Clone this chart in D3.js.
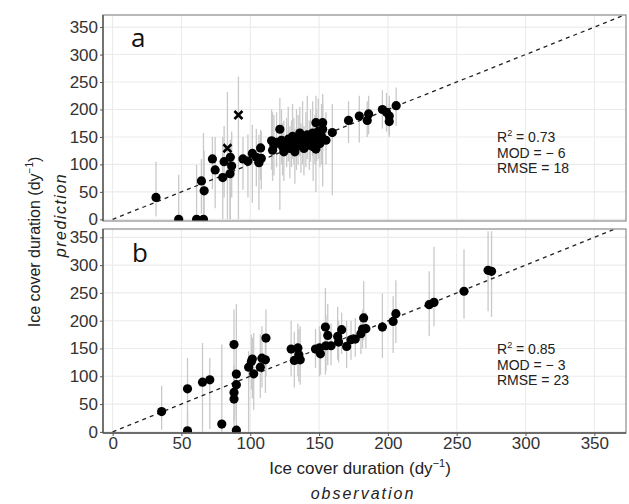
<!DOCTYPE html>
<html><head><meta charset="utf-8">
<script src="https://cdn.jsdelivr.net/npm/d3@7"></script>
<style>
body{margin:0;background:#fff;}
svg text{font-family:"Liberation Sans",Arial,sans-serif;}
</style></head>
<body><svg id="c" width="629" height="504"></svg>
<script>
// ---------- data ----------
const ticks = [0,50,100,150,200,250,300,350];
// Panel a (filled circles)
const obsA  = [31.5,48,61,66,64.5,66.5,72.5,74.5,80,81,85.5,86.5,85.3,94.7,98.3,101.5,104.4,106.3,107.5,108,
  115.5,116.2,117.2,119.1,121.5,122.7,123.5,124.4,126.4,127.6,128.8,130,130.7,131.7,132.4,133.6,134.8,136,136.8,138,
  139,140.4,141.4,142.9,143.8,145.3,145.7,147,147.7,148.2,149.4,150.6,151.8,152.6,147.7,152.6,155,159.6,171.4,179.2,
  185,186,196,199,201,201,206];
const predA = [40,0,0,0,70,52,110,90,76,105,113,97,83,110,106,120,113,103,130,111,
  143,126,135,140,164,144,132,123,140,146,129,137,151,141,123,132,146,157,135,149,
  129,141,154,135,146,157,132,141,128,149,160,138,151,164,176,176,144,158,180,188,
  180,192,200,195,178,188,207];
const loA   = [5,0,0,0,10,0,55,20,0,40,0,40,0,54,40,30,60,17,72,55,
  90,70,80,95,17,100,80,70,95,105,75,95,110,100,65,90,100,115,85,100,
  80,95,110,90,105,115,70,100,50,105,110,95,100,60,125,130,100,44,139,140,
  150,155,165,160,150,155,170];
const hiA   = [105,81,99,157,110,125,150,150,150,170,145,160,120,150,155,172,165,154,163,160,
  200,195,190,195,221,200,175,180,185,205,170,180,210,185,165,200,190,205,175,215,
  170,195,225,180,200,215,180,190,175,200,220,185,210,215,225,228,195,210,215,225,
  215,225,235,230,210,225,240];
// Panel a (crosses)
const obsAx  = [83.4,91.4];
const predAx = [129.5,190];
const loAx   = [0,0];
const hiAx   = [232,260];
// Panel b
const obsB  = [35.6,54.4,54.4,65.3,70.6,79.3,88.2,88.2,88.2,89.9,89.9,89.9,98.8,100.8,101.5,102.5,107.3,108.5,111,111.4,
  129.7,132,134.6,135.3,136.3,147.4,150.3,151,154.6,156.3,155,158.7,163.5,164.2,166.4,170,173.2,176.3,180.4,181.6,
  182.4,184,196,203.8,205.8,230,233.5,255.3,272.8,275.3];
const predB = [36.6,77.5,2,89.5,93.7,14,157,71,59,104,85,3,116.5,126.7,131,104.5,116.5,132.6,129.7,168.8,
  149,128.5,151,138.7,129.7,149,151,140.5,188.6,173.5,155,155,171.7,161.6,183.8,153.7,165.8,167,176.6,185,
  205,185.6,188.6,198.7,212.6,228.8,233,253,290.6,288.8];
const loB   = [4,4,0,0,5,0,60,20,10,30,20,0,0,76,60,40,61,80,70,100,
  100,80,100,90,85,115,100,103,103,120,110,120,130,125,140,115,130,135,140,150,
  165,150,133,142,160,172,190,204,217,207];
const hiB   = [83,133,40,160,133,157,220,120,110,230,150,60,145,175,170,178,175,190,165,220,
  200,180,195,185,190,185,190,180,259,230,210,195,225,200,215,200,200,205,210,220,
  271,215,249,244,273,289,333,328,361,361];
const statsA = ["0.73","− 6","18"];
const statsB = ["0.85","− 3","23"];

// ---------- layout ----------
const svg = d3.select("#c");
const L = 103, R = 626;
const x = d3.scaleLinear().domain([-7,373]).range([L,R]);
const panels = [
  {id:"a", top:15, bottom:221, ydom:[-3,372], obs:obsA, pred:predA, lo:loA, hi:hiA,
   xo:obsAx, xp:predAx, xl:loAx, xh:hiAx, stats:statsA, sy:137, lab:[131,47]},
  {id:"b", top:229, bottom:433, ydom:[-2,365], obs:obsB, pred:predB, lo:loB, hi:hiB,
   xo:[], xp:[], xl:[], xh:[], stats:statsB, sy:349, lab:[132,262]}
];

panels.forEach((p,i)=>{
  const y = d3.scaleLinear().domain(p.ydom).range([p.bottom,p.top]);
  const g = svg.append("g");
  g.append("rect").attr("x",L).attr("y",p.top).attr("width",R-L).attr("height",p.bottom-p.top).attr("fill","#fff");
  // grid
  g.selectAll(".gx").data(ticks).join("line").attr("x1",d=>x(d)).attr("x2",d=>x(d))
    .attr("y1",p.top).attr("y2",p.bottom).attr("stroke","#ebebeb").attr("stroke-width",1.1);
  g.selectAll(".gy").data(ticks).join("line").attr("y1",d=>y(d)).attr("y2",d=>y(d))
    .attr("x1",L).attr("x2",R).attr("stroke","#ebebeb").attr("stroke-width",1.1);
  const cid = "clip"+p.id;
  svg.append("clipPath").attr("id",cid).append("rect").attr("x",L).attr("y",p.top).attr("width",R-L).attr("height",p.bottom-p.top);
  const pg = g.append("g").attr("clip-path",`url(#${cid})`);
  // error bars
  const bars = p.obs.map((o,k)=>({o, lo:p.lo[k], hi:p.hi[k]})).concat(p.xo.map((o,k)=>({o, lo:p.xl[k], hi:p.xh[k]})));
  pg.selectAll(".eb").data(bars).join("line")
    .attr("x1",d=>x(d.o)).attr("x2",d=>x(d.o)).attr("y1",d=>y(d.lo)).attr("y2",d=>y(d.hi))
    .attr("stroke","#c9c9c9").attr("stroke-width",1.3);
  // 1:1 line
  pg.append("line").attr("x1",x(0)).attr("y1",y(0)).attr("x2",x(380)).attr("y2",y(380))
    .attr("stroke","#222").attr("stroke-width",1.3).attr("stroke-dasharray","4,4");
  // points
  pg.selectAll(".pt").data(p.obs.map((o,k)=>[o,p.pred[k]])).join("circle")
    .attr("cx",d=>x(d[0])).attr("cy",d=>y(d[1])).attr("r",4.6).attr("fill","#000");
  // crosses
  const s = 4;
  p.xo.forEach((o,k)=>{
    const cx = x(o), cy = y(p.xp[k]);
    pg.append("path").attr("d",`M${cx-s},${cy-s}L${cx+s},${cy+s}M${cx-s},${cy+s}L${cx+s},${cy-s}`)
      .attr("stroke","#000").attr("stroke-width",2.6);
  });
  // border
  g.append("rect").attr("x",L).attr("y",p.top).attr("width",R-L).attr("height",p.bottom-p.top)
    .attr("fill","none").attr("stroke","#8a8a8a").attr("stroke-width",1.2);
  g.append("line").attr("x1",L).attr("x2",L).attr("y1",p.top).attr("y2",p.bottom).attr("stroke","#555").attr("stroke-width",1.4);
  // y axis
  const ya = g.append("g").attr("transform",`translate(${L},0)`).call(d3.axisLeft(y).tickValues(ticks).tickSize(3).tickPadding(2));
  ya.select(".domain").remove();
  ya.selectAll("line").attr("stroke","#555");
  ya.selectAll("text").attr("fill","#333").style("font-size","17px").style("font-family","Liberation Sans, Arial, sans-serif");
  // panel label
  g.append("text").attr("x",p.lab[0]).attr("y",p.lab[1]).text(p.id)
    .style("font-family","Open Sans, sans-serif").style("font-size","26px").attr("fill","#111");
  // stats
  const st = g.append("g").style("font-size","14px").attr("fill","#222");
  const t1 = st.append("text").attr("x",497).attr("y",p.sy+5);
  t1.append("tspan").text("R");
  t1.append("tspan").text("2").attr("dy",-6).style("font-size","9px");
  t1.append("tspan").text(" = "+p.stats[0]).attr("dy",6);
  st.append("text").attr("x",497).attr("y",p.sy+20.5).text("MOD = "+p.stats[1]);
  st.append("text").attr("x",497).attr("y",p.sy+36).text("RMSE = "+p.stats[2]);
  if(i===1){
    g.append("line").attr("x1",L).attr("x2",R).attr("y1",p.bottom).attr("y2",p.bottom).attr("stroke","#555").attr("stroke-width",1.4);
    const xa = g.append("g").attr("transform",`translate(0,${p.bottom})`).call(d3.axisBottom(x).tickValues(ticks).tickSize(3).tickPadding(1));
    xa.select(".domain").remove();
    xa.selectAll("line").attr("stroke","#555");
    xa.selectAll("text").attr("fill","#333").style("font-size","17px").style("font-family","Liberation Sans, Arial, sans-serif");
  }
});

// axis titles
const xt = svg.append("text").attr("x",360).attr("y",474).attr("text-anchor","middle").style("font-size","17px").attr("fill","#222");
xt.append("tspan").text("Ice cover duration (dy");
xt.append("tspan").text("−1").attr("dy",-7).style("font-size","11px");
xt.append("tspan").text(")").attr("dy",7);
svg.append("text").attr("x",363).attr("y",499).attr("text-anchor","middle").style("font-size","16px")
  .style("font-style","italic").style("letter-spacing","2px").attr("fill","#222").text("observation");
const yt = svg.append("text").attr("transform","translate(40,242) rotate(-90)").attr("text-anchor","middle").style("font-size","16px").attr("fill","#222");
yt.append("tspan").text("Ice cover duration (dy");
yt.append("tspan").text("−1").attr("dy",-7).style("font-size","10px");
yt.append("tspan").text(")").attr("dy",7);
svg.append("text").attr("transform","translate(66,215) rotate(-90)").attr("text-anchor","middle").style("font-size","16px")
  .style("font-style","italic").style("letter-spacing","1.5px").attr("fill","#222").text("prediction");
</script></body></html>
